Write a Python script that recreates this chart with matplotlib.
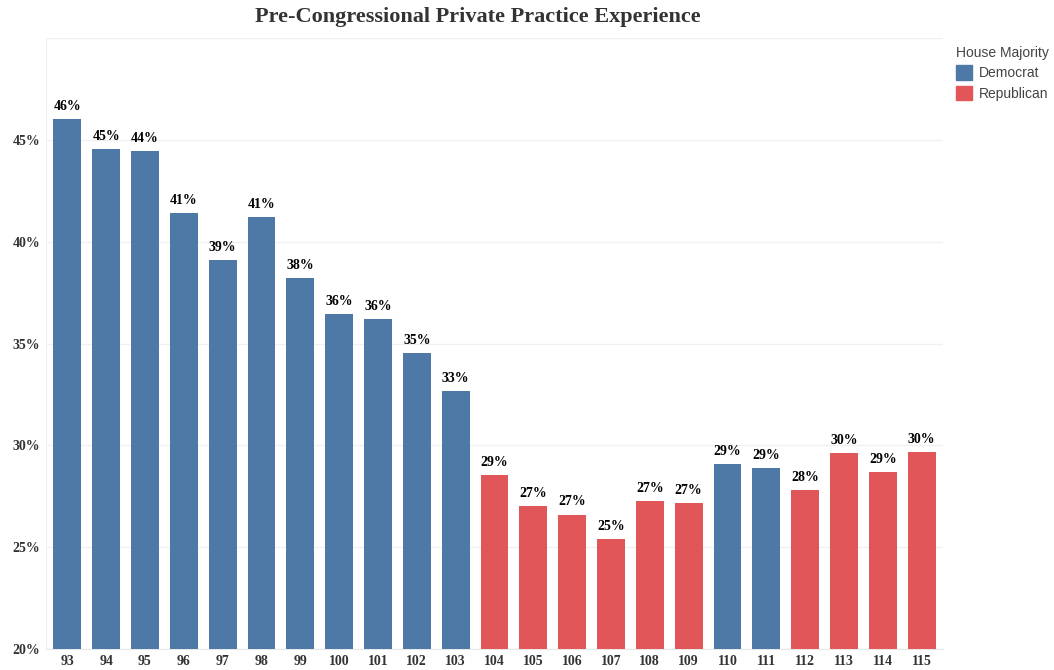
"""Pre-congressional private practice experience by House session."""

import matplotlib
matplotlib.use('Agg')
from matplotlib import pyplot as plt
from matplotlib.patches import Patch

# Data
congress = [93, 94, 95, 96, 97, 98, 99, 100, 101, 102, 103, 104,
            105, 106, 107, 108, 109, 110, 111, 112, 113, 114, 115]
share = [46.0, 44.55, 44.45, 41.4, 39.1, 41.2, 38.2, 36.45, 36.2, 34.55, 32.65, 28.55,
         27.0, 26.6, 25.4, 27.25, 27.15, 29.1, 28.9, 27.8, 29.6, 28.7, 29.65]
majority = ['Democrat'] * 11 + ['Republican'] * 6 + ['Democrat'] * 2 + ['Republican'] * 4

colors = {'Democrat': '#4e79a7', 'Republican': '#e15759'}
serif = ['Liberation Serif', 'DejaVu Serif']
sans = ['Liberation Sans', 'DejaVu Sans']

fig = plt.figure(figsize=(10.54, 6.70), dpi=100)
ax = fig.add_axes([0.0436, 0.0313, 0.8511, 0.912])

x = list(range(len(congress)))
ax.bar(x, [s - 20 for s in share], bottom=20, width=0.72,
       color=[colors[m] for m in majority], zorder=3)
for xi, s in zip(x, share):
    ax.text(xi, s + 0.3, f'{int(s + 0.5)}%', ha='center', va='bottom',
            fontsize=10, fontweight='bold', family=serif, color='black')

ax.set_xlim(-0.55, len(congress) - 0.45)
ax.set_ylim(20, 50)
ax.set_yticks([20, 25, 30, 35, 40, 45, 50])
ax.set_yticklabels(['20%', '25%', '30%', '35%', '40%', '45%', ''])
ax.set_xticks(x)
ax.set_xticklabels([str(c) for c in congress])
for lab in ax.get_xticklabels() + ax.get_yticklabels():
    lab.set_family(serif)
    lab.set_fontweight('bold')
    lab.set_fontsize(10)
    lab.set_color('#333333')
ax.tick_params(length=0, pad=4)
ax.grid(axis='y', color='#f0f0f0', linewidth=1, zorder=0)
for side in ['top', 'right']:
    ax.spines[side].set_visible(False)
ax.spines['left'].set_color('#f0f0f0')
ax.spines['bottom'].set_color('#e8e8e8')

fig.suptitle('Pre-Congressional Private Practice Experience', x=0.453, y=0.99,
             fontsize=16, fontweight='bold', family=serif, color='#333333')

handles = [Patch(color=colors[k]) for k in ['Democrat', 'Republican']]
leg = fig.legend(handles, ['Democrat', 'Republican'], title='House Majority',
                 loc='upper left', bbox_to_anchor=(0.9, 0.942), frameon=False,
                 handlelength=1.2, handleheight=1.2, handletextpad=0.5,
                 labelspacing=0.4, borderpad=0, prop={'family': sans, 'size': 10},
                 title_fontproperties={'family': sans, 'size': 10})
leg._legend_box.align = 'left'
for t in leg.get_texts():
    t.set_color('#444444')
leg.get_title().set_color('#444444')

plt.savefig('out.png', dpi=100)
